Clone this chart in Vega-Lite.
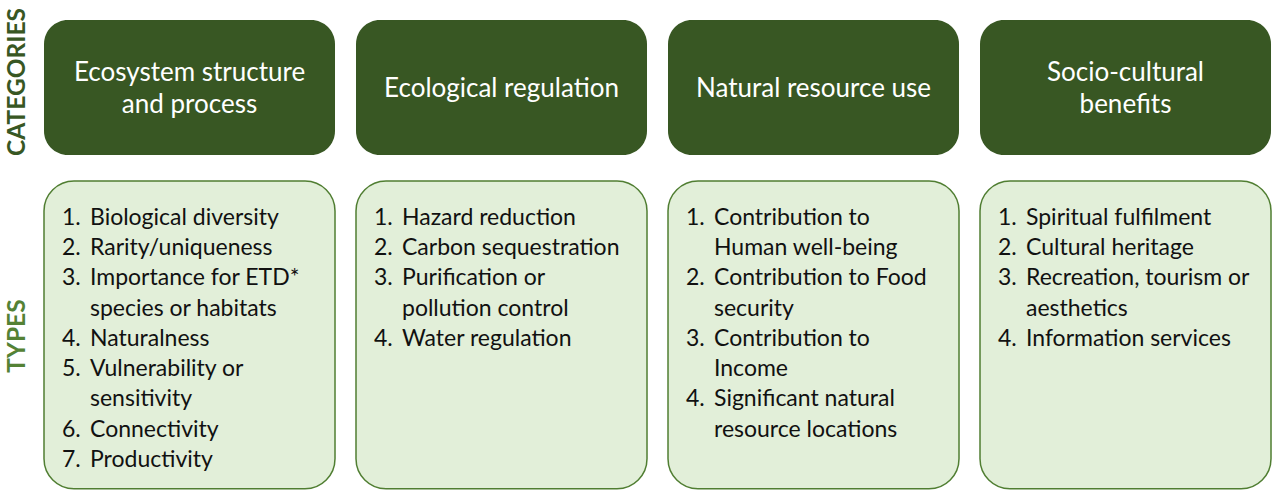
{
  "$schema": "https://vega.github.io/schema/vega-lite/v6.json",
  "width": 1272,
  "height": 490,
  "autosize": {"type": "fit", "contains": "padding"},
  "padding": 0,
  "background": "white",
  "config": {"view": {"stroke": null}},
  "datasets": {
    "cats": [
      {"col": 1, "title": "Ecosystem structure\nand process", "lines": 2},
      {"col": 2, "title": "Ecological regulation", "lines": 1},
      {"col": 3, "title": "Natural resource use", "lines": 1},
      {"col": 4, "title": "Socio-cultural\nbenefits", "lines": 2}
    ],
    "types": [
      {"col": 1, "line": 0, "num": "1.", "text": "Biological diversity"},
      {"col": 1, "line": 1, "num": "2.", "text": "Rarity/uniqueness"},
      {"col": 1, "line": 2, "num": "3.", "text": "Importance for ETD*"},
      {"col": 1, "line": 3, "num": "", "text": "species or habitats"},
      {"col": 1, "line": 4, "num": "4.", "text": "Naturalness"},
      {"col": 1, "line": 5, "num": "5.", "text": "Vulnerability or"},
      {"col": 1, "line": 6, "num": "", "text": "sensitivity"},
      {"col": 1, "line": 7, "num": "6.", "text": "Connectivity"},
      {"col": 1, "line": 8, "num": "7.", "text": "Productivity"},
      {"col": 2, "line": 0, "num": "1.", "text": "Hazard reduction"},
      {"col": 2, "line": 1, "num": "2.", "text": "Carbon sequestration"},
      {"col": 2, "line": 2, "num": "3.", "text": "Purification or"},
      {"col": 2, "line": 3, "num": "", "text": "pollution control"},
      {"col": 2, "line": 4, "num": "4.", "text": "Water regulation"},
      {"col": 3, "line": 0, "num": "1.", "text": "Contribution to"},
      {"col": 3, "line": 1, "num": "", "text": "Human well-being"},
      {"col": 3, "line": 2, "num": "2.", "text": "Contribution to Food"},
      {"col": 3, "line": 3, "num": "", "text": "security"},
      {"col": 3, "line": 4, "num": "3.", "text": "Contribution to"},
      {"col": 3, "line": 5, "num": "", "text": "Income"},
      {"col": 3, "line": 6, "num": "4.", "text": "Significant natural"},
      {"col": 3, "line": 7, "num": "", "text": "resource locations"},
      {"col": 4, "line": 0, "num": "1.", "text": "Spiritual fulfilment"},
      {"col": 4, "line": 1, "num": "2.", "text": "Cultural heritage"},
      {"col": 4, "line": 2, "num": "3.", "text": "Recreation, tourism or"},
      {"col": 4, "line": 3, "num": "", "text": "aesthetics"},
      {"col": 4, "line": 4, "num": "4.", "text": "Information services"}
    ],
    "sides": [
      {"label": "CATEGORIES", "pos": -4.43, "kind": "cat"},
      {"label": "TYPES", "pos": 3.967, "kind": "type"}
    ]
  },
  "encoding": {
    "x": {
      "field": "col", "type": "ordinal",
      "scale": {"domain": [1, 2, 3, 4], "paddingInner": 0.0673, "paddingOuter": 0.0721, "align": 0.978},
      "axis": null
    }
  },
  "layer": [
    {
      "data": {"name": "cats"},
      "mark": {"type": "rect", "cornerRadius": 24, "fill": "#385723"},
      "encoding": {
        "y": {"datum": -6.479, "type": "quantitative", "scale": {"domain": [-7.1405, 9.058], "reverse": true, "nice": false, "zero": false}, "axis": null},
        "y2": {"datum": -2.017}
      }
    },
    {
      "data": {"name": "cats"},
      "mark": {"type": "rect", "cornerRadius": 30, "fill": "#e2efd9", "stroke": "#507e32", "strokeWidth": 1.5},
      "encoding": {
        "y": {"datum": -1.157, "type": "quantitative"},
        "y2": {"datum": 9.02}
      }
    },
    {
      "data": {"name": "cats"},
      "mark": {"type": "text", "font": "Lato", "fontSize": 26, "color": "white", "align": "center", "baseline": "middle", "lineBreak": "\n", "lineHeight": 32, "dy": 1},
      "encoding": {
        "y": {"datum": -4.231, "type": "quantitative"},
        "yOffset": {"field": "lines", "type": "quantitative", "scale": {"domain": [1, 2], "range": [0, -16], "zero": false, "nice": false}},
        "text": {"field": "title"}
      }
    },
    {
      "data": {"name": "types"},
      "mark": {"type": "text", "font": "Lato", "fontSize": 23, "color": "#111111", "align": "left", "baseline": "middle", "dx": 18, "dy": 2},
      "encoding": {
        "x": {"field": "col", "type": "ordinal", "bandPosition": 0},
        "y": {"field": "line", "type": "quantitative"},
        "text": {"field": "num"}
      }
    },
    {
      "data": {"name": "types"},
      "mark": {"type": "text", "font": "Lato", "fontSize": 23, "color": "#111111", "align": "left", "baseline": "middle", "dx": 46, "dy": 2},
      "encoding": {
        "x": {"field": "col", "type": "ordinal", "bandPosition": 0},
        "y": {"field": "line", "type": "quantitative"},
        "text": {"field": "text"}
      }
    },
    {
      "data": {"name": "sides"},
      "mark": {"type": "text", "font": "Lato", "fontWeight": "bold", "fontSize": 24.5, "angle": 270, "align": "center", "baseline": "middle", "dy": -26},
      "encoding": {
        "x": {"datum": 1, "type": "ordinal", "bandPosition": 0},
        "y": {"field": "pos", "type": "quantitative"},
        "text": {"field": "label"},
        "color": {"field": "kind", "type": "nominal", "scale": {"domain": ["cat", "type"], "range": ["#385723", "#548235"]}, "legend": null}
      }
    }
  ]
}
